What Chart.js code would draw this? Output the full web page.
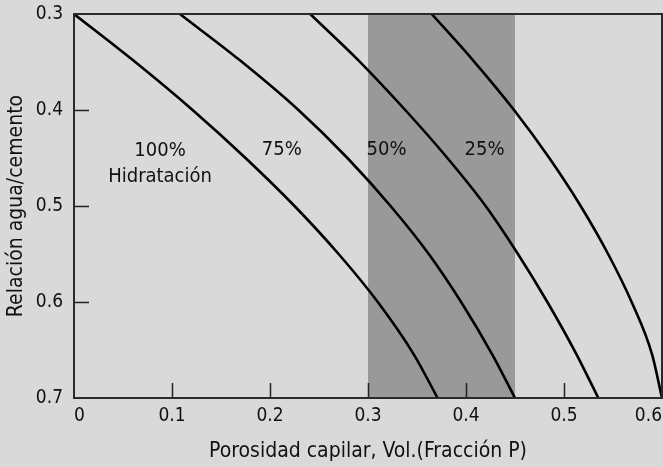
<!DOCTYPE html>
<html><head><meta charset="utf-8">
<script src="https://cdn.jsdelivr.net/npm/chart.js@4"></script>
<style>html,body{margin:0;padding:0;background:#d9d9d9;overflow:hidden}</style>
</head><body><canvas id="c" width="663" height="467"></canvas>
<script>
// water/cement ratios at which the curves were read
const wcRatio = [0.30, 0.348, 0.40, 0.45, 0.50, 0.55, 0.60, 0.655, 0.70];
// capillary porosity for each degree of hydration
const porosity100 = [0.000, 0.060, 0.121, 0.175, 0.225, 0.270, 0.310, 0.347, 0.371];
const porosity75  = [0.108, 0.169, 0.229, 0.279, 0.323, 0.362, 0.395, 0.427, 0.450];
const porosity50  = [0.241, 0.290, 0.338, 0.381, 0.420, 0.453, 0.483, 0.513, 0.535];
const porosity25  = [0.365, 0.407, 0.449, 0.485, 0.517, 0.545, 0.569, 0.590, 0.600];
const hydrationLabels = ['100%', '75%', '50%', '25%'];
const hydrationWord = 'Hidratación';
const xTicks = [0, 0.1, 0.2, 0.3, 0.4, 0.5, 0.6];
const yTicks = [0.3, 0.4, 0.5, 0.6, 0.7];
const bandRange = [0.30, 0.45];
const xTitle = 'Porosidad capilar, Vol.(Fracción P)';
const yTitle = 'Relación agua/cemento';

const FONT = "'Liberation Sans Narrow', 'DejaVu Sans Condensed', 'Arial Narrow', sans-serif";
const series = [porosity100, porosity75, porosity50, porosity25];
const datasets = series.map((s, i) => ({
  label: hydrationLabels[i],
  data: s.map((x, j) => ({x: x, y: wcRatio[j]})),
  showLine: true,
  borderColor: '#000',
  borderWidth: 2.6,
  pointRadius: 0,
  cubicInterpolationMode: 'monotone',
  fill: false
}));

const annotations = [
  {text: hydrationLabels[0], x: 0.0878, y: 0.443},
  {text: hydrationWord,      x: 0.0878, y: 0.4695},
  {text: hydrationLabels[1], x: 0.212,  y: 0.441},
  {text: hydrationLabels[2], x: 0.319,  y: 0.441},
  {text: hydrationLabels[3], x: 0.419,  y: 0.441}
];

const decor = {
  id: 'decor',
  beforeDraw(chart) {
    const ctx = chart.ctx;
    ctx.save();
    ctx.fillStyle = '#d9d9d9';
    ctx.fillRect(0, 0, chart.width, chart.height);
    ctx.restore();
  },
  beforeDatasetsDraw(chart) {
    const {ctx, chartArea: a, scales: {x}} = chart;
    const x0 = x.getPixelForValue(bandRange[0]);
    const x1 = x.getPixelForValue(bandRange[1]);
    ctx.save();
    ctx.fillStyle = '#999999';
    ctx.fillRect(x0, a.top, x1 - x0, a.bottom - a.top);
    ctx.restore();
  },
  afterDatasetsDraw(chart) {
    const {ctx, chartArea: a, scales: {x, y}} = chart;
    ctx.save();
    // inward tick marks
    ctx.strokeStyle = '#222';
    ctx.lineWidth = 1.5;
    ctx.beginPath();
    xTicks.forEach(v => {
      if (v <= x.min || v >= x.max) return;
      const px = Math.round(x.getPixelForValue(v)) + 0.5;
      ctx.moveTo(px, a.bottom); ctx.lineTo(px, a.bottom - 15);
    });
    yTicks.forEach(v => {
      if (v <= y.min || v >= y.max) return;
      const py = Math.round(y.getPixelForValue(v)) + 0.5;
      ctx.moveTo(a.left, py); ctx.lineTo(a.left + 15, py);
    });
    ctx.stroke();
    // frame
    ctx.strokeStyle = '#2a2a2a';
    ctx.lineWidth = 2;
    ctx.strokeRect(a.left, a.top, a.right - a.left, a.bottom - a.top);
    // labels
    ctx.fillStyle = '#111';
    ctx.font = '20px ' + FONT;
    ctx.textAlign = 'center';
    ctx.textBaseline = 'middle';
    annotations.forEach(t => {
      ctx.fillText(t.text, x.getPixelForValue(t.x), y.getPixelForValue(t.y));
    });
    ctx.restore();
  }
};

new Chart(document.getElementById('c'), {
  type: 'scatter',
  data: {datasets},
  options: {
    responsive: false,
    devicePixelRatio: 1,
    animation: false,
    layout: {padding: {top: 14, right: 1, left: 0, bottom: 0}},
    plugins: {legend: {display: false}, tooltip: {enabled: false}},
    scales: {
      x: {
        type: 'linear', min: 0, max: 0.6,
        afterBuildTicks: s => { s.ticks = xTicks.map(v => ({value: v})); },
        afterFit: s => { s.height = 69; s.paddingLeft = 0; s.paddingRight = 0; },
        grid: {display: false, drawTicks: false},
        border: {display: false},
        ticks: {
          align: 'inner', autoSkip: false, maxRotation: 0, padding: 7,
          color: '#111', font: {family: FONT, size: 19},
          callback: v => v === 0 ? '0' : v.toFixed(1)
        },
        title: {display: true, text: xTitle, color: '#111',
          font: {family: FONT, size: 21}, padding: {top: 0, bottom: 3}}
      },
      y: {
        type: 'linear', min: 0.3, max: 0.7, reverse: true,
        afterBuildTicks: s => { s.ticks = yTicks.map(v => ({value: v})); },
        afterFit: s => { s.width = 74; s.paddingTop = 0; s.paddingBottom = 0; },
        grid: {display: false, drawTicks: false},
        border: {display: false},
        ticks: {
          autoSkip: false, padding: 11,
          color: '#111', font: {family: FONT, size: 19},
          callback: v => v.toFixed(1)
        },
        title: {display: true, text: yTitle, color: '#111',
          font: {family: FONT, size: 21}, padding: {top: 4, bottom: 0}}
      }
    }
  },
  plugins: [decor]
});
</script>
</body></html>
